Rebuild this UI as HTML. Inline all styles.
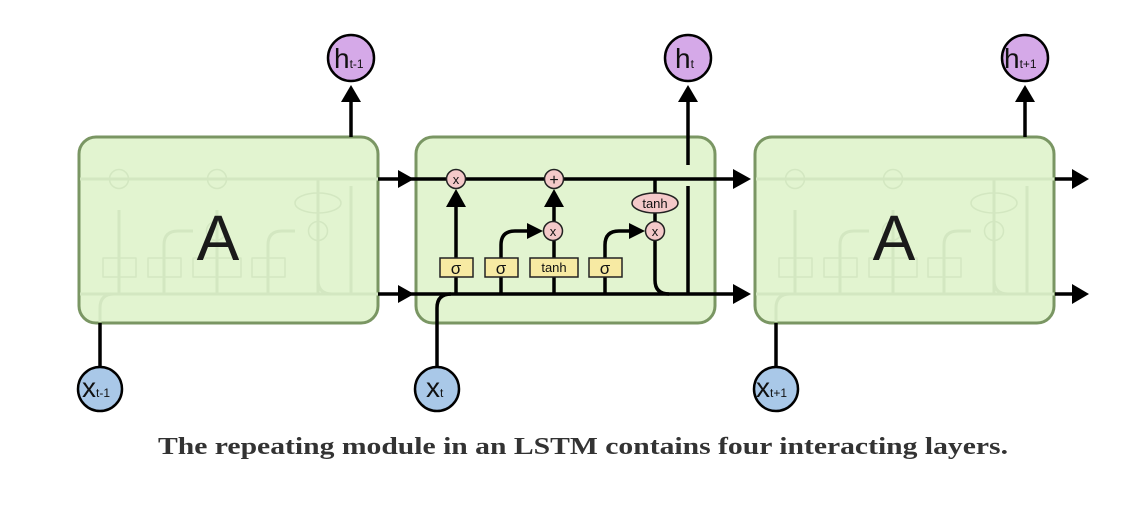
<!DOCTYPE html>
<html><head><meta charset="utf-8"><style>
html,body{margin:0;padding:0;background:#fff;width:1128px;height:508px;overflow:hidden}
svg{display:block}
</style></head><body>
<svg width="1128" height="508" viewBox="0 0 1128 508" xmlns="http://www.w3.org/2000/svg" font-family="Liberation Sans, DejaVu Sans, sans-serif">
<defs>
<g id="inner" fill="none" stroke-width="3" stroke-linejoin="round">
  <line x1="80" y1="179" x2="378" y2="179"/>
  <path d="M80 294 H378"/>
  <path d="M119 294 V210"/>
  <path d="M164 294 V245 Q164 231 178 231 H193"/>
  <path d="M217 294 V210"/>
  <path d="M268 294 V245 Q268 231 282 231 H295"/>
  <path d="M318 179 V294"/>
  <path d="M318 240 V280 Q318 294 332 294"/>
  <path d="M351 294 V186"/>
  <path d="M100 322 V308 Q100 294 114 294"/>
  <rect x="103" y="258" width="33" height="19" stroke-width="1.5"/>
  <rect x="148" y="258" width="33" height="19" stroke-width="1.5"/>
  <rect x="193" y="258" width="48" height="19" stroke-width="1.5"/>
  <rect x="252" y="258" width="33" height="19" stroke-width="1.5"/>
  <circle cx="119" cy="179" r="9.5" stroke-width="1.5"/>
  <circle cx="217" cy="179" r="9.5" stroke-width="1.5"/>
  <circle cx="216" cy="231" r="9.5" stroke-width="1.5"/>
  <circle cx="318" cy="231" r="9.5" stroke-width="1.5"/>
  <ellipse cx="318" cy="203" rx="23" ry="10" stroke-width="1.5"/>
</g>
</defs>

<!-- Left cell -->
<rect x="79" y="137" width="299" height="186" rx="17" fill="#e2f4d0" stroke="#7a9663" stroke-width="3"/>
<use href="#inner" stroke="#d3e7c1"/>
<text x="218" y="260" font-size="64" text-anchor="middle" fill="#1a1a1a">A</text>
<!-- Right cell -->
<rect x="755" y="137" width="299" height="186" rx="17" fill="#e2f4d0" stroke="#7a9663" stroke-width="3"/>
<use href="#inner" transform="translate(676 0)" stroke="#d3e7c1"/>
<text x="894" y="260" font-size="64" text-anchor="middle" fill="#1a1a1a">A</text>

<!-- Middle cell -->
<rect x="416" y="137" width="299" height="186" rx="17" fill="#e2f4d0" stroke="#7a9663" stroke-width="3"/>
<g stroke="#000" stroke-width="3.5" fill="none" stroke-linejoin="round">
  <line x1="378" y1="179" x2="735" y2="179"/>
  <line x1="378" y1="294" x2="735" y2="294"/>
  <path d="M456 294 V205"/>
  <path d="M501 294 V245 Q501 231 515 231 H530"/>
  <path d="M554 294 V205"/>
  <path d="M605 294 V245 Q605 231 619 231 H632"/>
  <path d="M655 179 V231"/>
  <path d="M655 231 V280 Q655 294 669 294"/>
  <path d="M688 294 V186"/>
  <path d="M688 165 V100"/>
  <path d="M437 367 V308 Q437 294 451 294"/>
  <path d="M1055 179 H1072"/><path d="M1055 294 H1072"/>
  <path d="M351 137 V100"/><path d="M1025 137 V100"/>
  <path d="M100 323 V367"/><path d="M776 323 V367"/>
</g>
<g fill="#000">
  <polygon points="398,170 414,179 398,188"/>
  <polygon points="398,285 414,294 398,303"/>
  <polygon points="733,169 751,179 733,189"/>
  <polygon points="733,284 751,294 733,304"/>
  <polygon points="1072,169 1089,179 1072,189"/>
  <polygon points="1072,284 1089,294 1072,304"/>
  <polygon points="446,207 456,189 466,207"/>
  <polygon points="544,207 554,189 564,207"/>
  <polygon points="527,223 543,231 527,239"/>
  <polygon points="629,223 645,231 629,239"/>
  <polygon points="341,102 351,85 361,102"/>
  <polygon points="678,102 688,85 698,102"/>
  <polygon points="1015,102 1025,85 1035,102"/>
</g>
<g stroke="#222" stroke-width="1.5">
  <rect x="440" y="258" width="33" height="19" fill="#f7eaa3"/>
  <rect x="485" y="258" width="33" height="19" fill="#f7eaa3"/>
  <rect x="530" y="258" width="48" height="19" fill="#f7eaa3"/>
  <rect x="589" y="258" width="33" height="19" fill="#f7eaa3"/>
  <circle cx="456" cy="179" r="9.5" fill="#f4c9c9"/>
  <circle cx="554" cy="179" r="9.5" fill="#f4c9c9"/>
  <circle cx="553" cy="231" r="9.5" fill="#f4c9c9"/>
  <circle cx="655" cy="231" r="9.5" fill="#f4c9c9"/>
  <ellipse cx="655" cy="203" rx="23" ry="10" fill="#f4c9c9"/>
</g>
<g font-size="14" text-anchor="middle" fill="#111">
  <text x="456" y="274" font-size="17">σ</text>
  <text x="501" y="274" font-size="17">σ</text>
  <text x="554" y="272" font-size="13">tanh</text>
  <text x="605" y="274" font-size="17">σ</text>
  <text x="456" y="184" font-size="13">x</text>
  <text x="554" y="185" font-size="16">+</text>
  <text x="553" y="236" font-size="13">x</text>
  <text x="655" y="236" font-size="13">x</text>
  <text x="655" y="208" font-size="13">tanh</text>
</g>

<g stroke="#000" stroke-width="2.5">
  <circle cx="351" cy="58" r="23" fill="#d5a9e8"/>
  <circle cx="688" cy="58" r="23" fill="#d5a9e8"/>
  <circle cx="1025" cy="58" r="23" fill="#d5a9e8"/>
  <circle cx="100" cy="389" r="22" fill="#a9c8e8"/>
  <circle cx="437" cy="389" r="22" fill="#a9c8e8"/>
  <circle cx="776" cy="389" r="22" fill="#a9c8e8"/>
</g>
<g fill="#111">
  <text x="334" y="68" font-size="28">h<tspan font-size="12">t-1</tspan></text>
  <text x="675" y="68" font-size="28">h<tspan font-size="12">t</tspan></text>
  <text x="1004" y="68" font-size="28">h<tspan font-size="12">t+1</tspan></text>
  <text x="82" y="397" font-size="28">x<tspan font-size="12">t-1</tspan></text>
  <text x="426" y="397" font-size="28">x<tspan font-size="12">t</tspan></text>
  <text x="756" y="397" font-size="28">x<tspan font-size="12">t+1</tspan></text>
</g>

<text x="158" y="454" textLength="850" lengthAdjust="spacingAndGlyphs" font-family="Liberation Serif, serif" font-weight="bold" font-size="24" fill="#333">The repeating module in an LSTM contains four interacting layers.</text>
</svg>
</body></html>
